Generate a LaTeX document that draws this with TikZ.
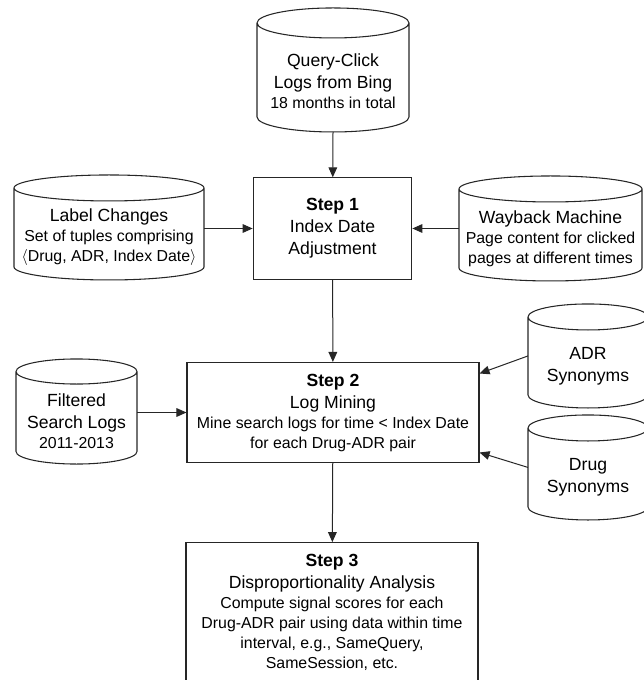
\documentclass[tikz,border=0pt]{standalone}
\usepackage{fontspec}
\setmainfont{Liberation Sans}
\usetikzlibrary{arrows.meta, calc}
\definecolor{linegray}{HTML}{262626}
\newcommand{\bigline}[1]{{\fontsize{13.2}{15}\selectfont #1}}
\tikzset{
    stepbox/.style={
        draw=linegray,
        line width=0.8pt,
        align=center,
        font=\fontsize{11.9}{15}\selectfont,
        inner sep=2pt
    },
    drumline/.style={draw=linegray, line width=0.8pt},
    % width, body height, ellipse radius (the node reaches 5pt below the drum)
    store/.style n args={3}{
        align=center,
        font=\fontsize{11.9}{15}\selectfont,
        inner sep=2pt,
        outer sep=0pt,
        minimum width=#1,
        minimum height=#2+5pt,
        append after command={
            \pgfextra{
                \draw[drumline]
                    (\tikzlastnode.north west) -- ([yshift=#3+5pt]\tikzlastnode.south west)
                    arc[start angle=180, end angle=360, x radius=0.5*#1, y radius=#3]
                    -- (\tikzlastnode.north east)
                    arc[start angle=0, end angle=360, x radius=0.5*#1, y radius=#3];
            }
        }
    },
    flow/.style={-{Triangle[length=7.5pt, width=6.5pt]}, line width=0.75pt, draw=linegray}
}

\begin{document}
\begin{tikzpicture}[x=0.75pt, y=-0.75pt]
    \useasboundingbox (0,0) rectangle (643,680);

    \node[store={114pt}{81.75pt}{11.25pt}] (querylogs) at (333,80.8)
        {\bigline{Query-Click}\\[1.5pt]\bigline{Logs from Bing}\\18 months in total};
    \node[stepbox, minimum width=119pt, minimum height=76pt] (step1) at (332.5,228.5)
        {\bigline{\textbf{Step 1}}\\[1.5pt]\bigline{Index Date}\\[1.5pt]\bigline{Adjustment}};
    \node[store={142.5pt}{69pt}{9.75pt}] (labelchanges) at (109,237.3)
        {\bigline{Label Changes}\\Set of tuples comprising\\$\langle$Drug, ADR, Index Date$\rangle$};
    \node[store={137.25pt}{69pt}{9.75pt}] (wayback) at (550.5,238.3)
        {\bigline{Wayback Machine}\\Page content for clicked\\pages at different times};

    \node[stepbox, minimum width=219pt, minimum height=75pt] (step2) at (333,412.5)
        {\bigline{\textbf{Step 2}}\\[1.5pt]\bigline{Log Mining}\\Mine search logs for time < Index Date\\for each Drug-ADR pair};
    \node[store={90.75pt}{69.4pt}{9.4pt}] (filtered) at (76.5,421.1)
        {\bigline{Filtered}\\[1.5pt]\bigline{Search Logs}\\2011-2013};
    \node[store={90pt}{68.25pt}{9.75pt}] (adrsyn) at (588,365.8)
        {\bigline{ADR}\\[1.5pt]\bigline{Synonyms}};
    \node[store={90pt}{69pt}{9.75pt}] (drugsyn) at (588,477.3)
        {\bigline{Drug}\\[1.5pt]\bigline{Synonyms}};

    \node[stepbox, minimum width=219pt, minimum height=104pt] (step3) at (332,612)
        {\bigline{\textbf{Step 3}}\\[1.5pt]\bigline{Disproportionality Analysis}\\Compute signal scores for each\\Drug-ADR pair using data within time\\interval, e.g., SameQuery,\\SameSession, etc.};

    \draw[flow] ([yshift=5pt]querylogs.south) -- (step1);
    \draw[flow] (labelchanges.east |- step1.west) -- (step1.west);
    \draw[flow] (wayback.west |- step1.east) -- (step1.east);
    \draw[flow] (step1) -- (step2);
    \draw[flow] (filtered.east |- step2.west) -- (step2.west);
    \draw[flow] ([yshift=7.4pt]adrsyn.west) -- ($(step2.east)+(0,-39)$);
    \draw[flow] ([yshift=7.4pt]drugsyn.west) -- ($(step2.east)+(0,40)$);
    \draw[flow] (step2) -- (step3);
\end{tikzpicture}
\end{document}
